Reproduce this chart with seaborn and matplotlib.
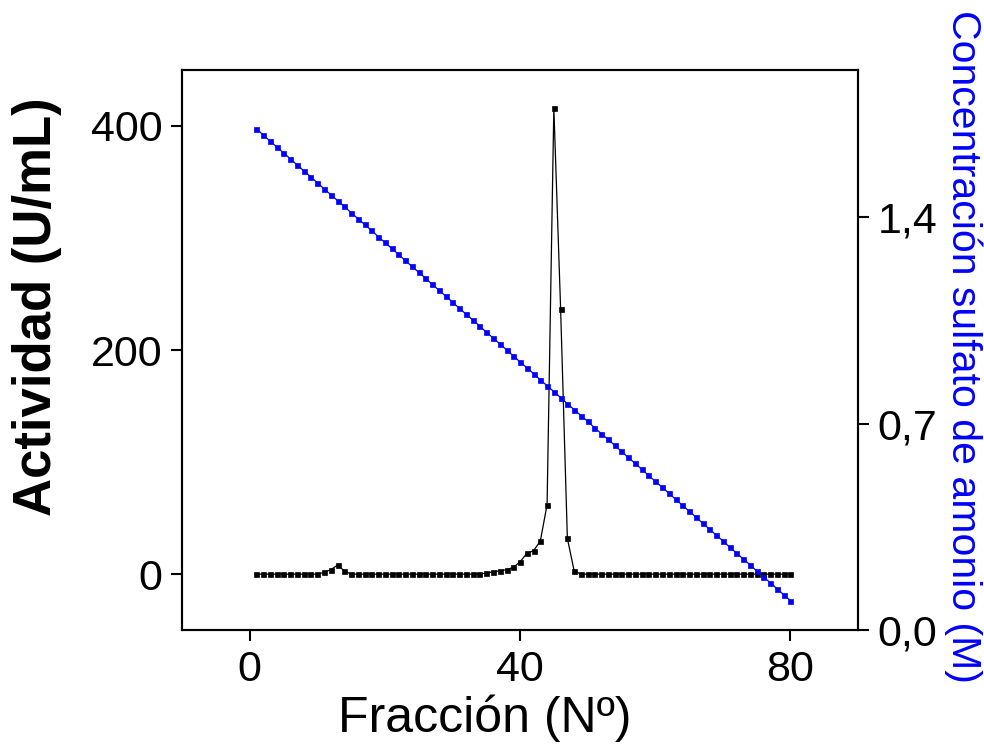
import matplotlib
matplotlib.use("Agg")
import matplotlib.pyplot as plt
import seaborn as sns
import pandas as pd

# ---- data ----
fraccion = list(range(1, 81))
actividad = [0, 0, 0, 0, 0, 0, 0, 0, 0, 0,
             1.5, 4, 8, 3, 0, 0, 0, 0, 0, 0,
             0, 0, 0, 0, 0, 0, 0, 0, 0, 0,
             0, 0, 0, 0, 1, 2, 3, 4, 6, 11,
             18.5, 21, 29.5, 62, 416, 237, 32, 3, 0, 0,
             0, 0, 0, 0, 0, 0, 0, 0, 0, 0,
             0, 0, 0, 0, 0, 0, 0, 0, 0, 0,
             0, 0, 0, 0, 0, 0, 0, 0, 0, 0]
sulfato = [1.700, 1.680, 1.659, 1.639, 1.619, 1.599, 1.578, 1.558, 1.538, 1.518,
           1.497, 1.477, 1.457, 1.437, 1.416, 1.396, 1.376, 1.356, 1.335, 1.315,
           1.295, 1.275, 1.254, 1.234, 1.214, 1.194, 1.173, 1.153, 1.133, 1.113,
           1.092, 1.072, 1.052, 1.032, 1.011, 0.991, 0.971, 0.951, 0.930, 0.910,
           0.890, 0.870, 0.849, 0.829, 0.809, 0.789, 0.768, 0.748, 0.728, 0.708,
           0.687, 0.667, 0.647, 0.627, 0.606, 0.586, 0.566, 0.546, 0.525, 0.505,
           0.485, 0.465, 0.444, 0.424, 0.404, 0.384, 0.363, 0.343, 0.323, 0.303,
           0.282, 0.262, 0.242, 0.222, 0.201, 0.181, 0.161, 0.141, 0.120, 0.100]
x_ticks = [0, 40, 80]
y_ticks = [0, 200, 400]
y2_ticks = [0.0, 0.7, 1.4]
y2_ticklabels = ["0,0", "0,7", "1,4"]

df = pd.DataFrame({"Fraccion": fraccion, "Actividad": actividad, "Sulfato": sulfato})

sns.set_theme(style="ticks")
plt.rcParams['font.family'] = ['Liberation Sans', 'DejaVu Sans']
plt.rcParams['text.color'] = 'black'
plt.rcParams['axes.labelcolor'] = 'black'

fig = plt.figure(figsize=(9.84, 7.52), dpi=100)
ax = fig.add_axes([0.185, 0.162, 0.687, 0.745])

sns.lineplot(data=df, x="Fraccion", y="Actividad", ax=ax, color="black",
             marker="s", markersize=3.6, markeredgewidth=0.5, markeredgecolor="black",
             linewidth=0.9)
ax.set_xlim(-10, 90)
ax.set_ylim(-50, 450)
ax.set_xticks(x_ticks)
ax.set_yticks(y_ticks)
ax.set_xlabel("Fracción (Nº)", fontsize=36, labelpad=2, color="black")
ax.xaxis.set_label_coords(0.448, -0.115)
ax.set_ylabel("Actividad (U/mL)", fontsize=38, fontweight="bold", color="black")
ax.yaxis.set_label_coords(-0.178, 0.577)

ax2 = ax.twinx()
sns.lineplot(data=df, x="Fraccion", y="Sulfato", ax=ax2, color="blue",
             marker="s", markersize=3.6, markeredgewidth=0.5, markeredgecolor="blue",
             linewidth=0.9)
ax2.set_ylim(0, 1.9)
ax2.set_yticks(y2_ticks)
ax2.set_yticklabels(y2_ticklabels)
ax2.set_ylabel("Concentración sulfato de amonio (M)", fontsize=29.5, color="blue",
               rotation=-90, va="bottom")
ax2.yaxis.set_label_coords(1.127, 0.507)

for a in (ax, ax2):
    for s in a.spines.values():
        s.set_linewidth(1.5)
        s.set_color("black")
    a.tick_params(axis="both", labelsize=31, length=8, width=1.5, direction="out",
                  colors="black", pad=6)
ax.tick_params(axis="y", right=False)
ax.tick_params(axis="x", top=False)

fig.savefig("out.png", dpi=100)
